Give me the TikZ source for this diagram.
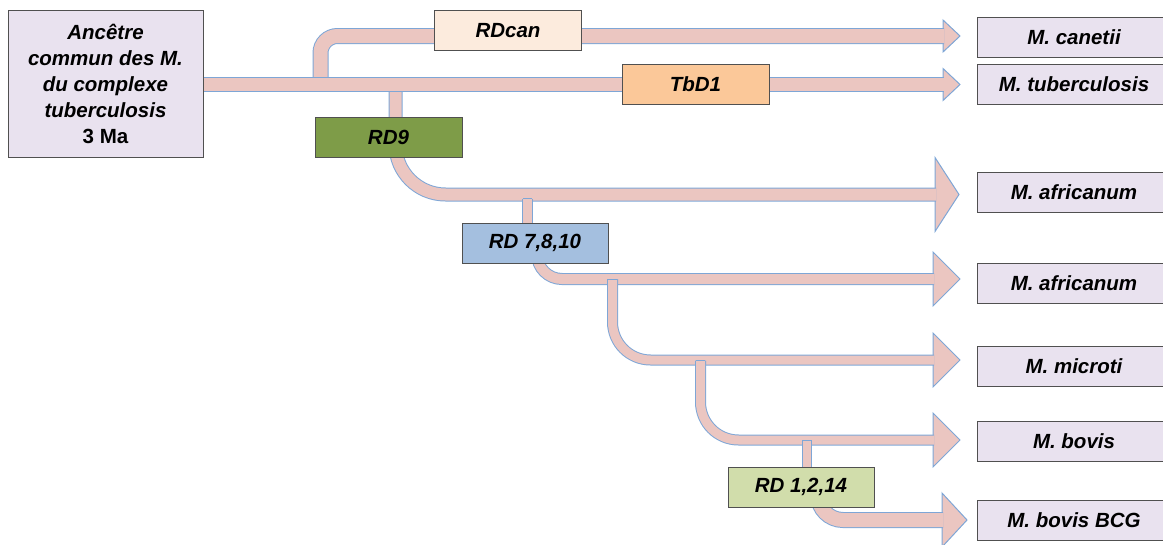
\documentclass[tikz,border=0pt]{standalone}
\usepackage{fontspec}
\setmainfont{Liberation Sans}
\definecolor{bandfill}{HTML}{EBC6C1}
\definecolor{bandline}{HTML}{7EA6D6}
\definecolor{boxline}{HTML}{505050}
\definecolor{lav}{HTML}{E9E2EF}
\definecolor{cancol}{HTML}{FCEBDD}
\definecolor{tbcol}{HTML}{FBC899}
\definecolor{ninecol}{HTML}{7E9C48}
\definecolor{sevencol}{HTML}{A4BFDF}
\definecolor{onecol}{HTML}{D1DDAB}
\newcommand\lbl{\fontsize{20.5}{26}\selectfont\bfseries\itshape}
\begin{document}
\begin{tikzpicture}[x=1pt,y=-1pt,
  box/.style={draw=boxline, line width=1pt, minimum height=40pt, inner sep=0pt, font=\lbl},
  rdbox/.style={box, minimum width=146pt},
  taxon/.style={box, fill=lav, minimum width=194pt},
  band/.style={draw=bandline, line width=1pt, double=bandfill, double distance=#1},
  head/.style={fill=bandfill, draw=bandline, line width=1pt, line join=miter},
  capline/.style={draw=bandline, line width=1pt}]
\useasboundingbox (0,0) rectangle (1163,544);

% nodes
\node[box, fill=lav, minimum width=195pt, minimum height=147pt, align=center] (anc) at (105.5,84)
  {Ancêtre\\commun des M.\\du complexe\\tuberculosis\\\upshape 3 Ma};
\coordinate (can-in) at (944,36);
\coordinate (tb-in) at (944,84.5);
\coordinate (af1-in) at (936,194.5);
\coordinate (af2-in) at (934,279);
\coordinate (mic-in) at (934,360);
\coordinate (bov-in) at (934,440);
\coordinate (bcg-in) at (943,520);

% arrow heads
\foreach \bx/\tx/\cy/\h in {943/960/36/16, 943/960/84.5/16, 935/959/194.5/37,
    933/960/279/27, 933/960/360/27, 933/960/440/27, 942/967/520/27}
  \filldraw[head] (\bx,\cy-\h) -- (\tx,\cy) -- (\bx,\cy+\h) -- cycle;

% branches leaving the trunk
\draw[band=14pt, rounded corners=17pt] (320.5,84) -- (320.5,36) -- (can-in);
\draw[band=12pt, rounded corners=50pt] (395.5,84) -- (395.5,194.5) -- (af1-in);
% trunk
\draw[band=13pt] (anc.east |- tb-in) -- (tb-in);

% later branches
\draw[band=9pt] (527.5,198.5) -- (527.5,230);
\draw[capline] (523,198.5) -- (532,198.5);
\draw[band=10pt, rounded corners=25pt] (537,250) -- (537,279) -- (af2-in);
\draw[band=9pt, rounded corners=38pt] (612.5,279) -- (612.5,360) -- (mic-in);
\draw[capline] (608,279) -- (617,279);
\draw[band=9pt, rounded corners=38pt] (700.5,360.5) -- (700.5,440) -- (bov-in);
\draw[capline] (696,360.5) -- (705,360.5);
\draw[band=8pt] (807,440) -- (807,475);
\draw[capline] (803,440) -- (811,440);
\draw[band=14pt, rounded corners=25pt] (818,495) -- (818,520) -- (bcg-in);

% deletion markers
\node[rdbox, fill=cancol, minimum width=147pt] (rdcan) at (508,30.5) {RDcan};
\node[rdbox, fill=tbcol, minimum width=147pt] (tbd1) at (695.5,84.5) {TbD1};
\node[rdbox, fill=ninecol, minimum width=147pt] (rd9) at (388.5,137) {RD9};
\node[rdbox, fill=sevencol] (rd7) at (535,243) {RD 7,8,10};
\node[rdbox, fill=onecol] (rd1) at (801,487) {RD 1,2,14};

% species
\node[taxon] (can) at (1074,37) {M. canetii};
\node[taxon] (tb) at (1074,84) {M. tuberculosis};
\node[taxon] (af1) at (1074,192) {M. africanum};
\node[taxon] (af2) at (1074,283) {M. africanum};
\node[taxon] (mic) at (1074,366) {M. microti};
\node[taxon] (bov) at (1074,441) {M. bovis};
\node[taxon] (bcg) at (1074,520) {M. bovis BCG};
\end{tikzpicture}
\end{document}
